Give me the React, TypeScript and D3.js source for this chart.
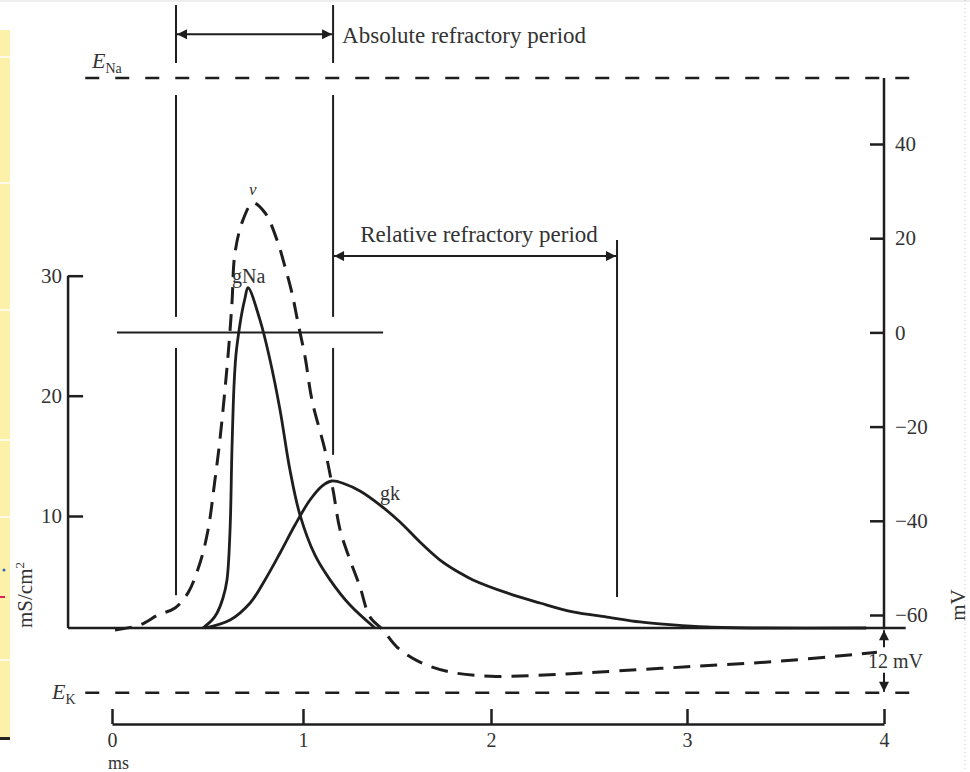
import React, { useEffect, useRef } from "react";
import * as d3 from "d3";

// time axis (ms) and the two y scales
const timeTicks = [0, 1, 2, 3, 4];
const condTicks = [10, 20, 30];
const mvTicks = [40, 20, 0, -20, -40, -60];

// reversal potentials and rest (mV)
const E_NA = 54;
const E_K = -76.5;
const V_REST = -63;

// membrane potential v (mV), dashed
const vTime = [0.016, 0.147, 0.241, 0.33, 0.398, 0.461, 0.503, 0.539, 0.565, 0.607, 0.628, 0.644, 0.686, 0.738, 0.801, 0.864, 0.906, 0.942, 0.974, 1.011, 1.048, 1.117, 1.16, 1.197, 1.25, 1.303, 1.356, 1.426, 1.5, 1.622, 1.782, 2.0, 2.301, 2.556, 3.0, 3.472, 3.964];
const vValues = [-63.2, -62.1, -60.0, -58.5, -55.3, -48.9, -41.9, -31.3, -22.8, -5.2, 6.2, 16.9, 23.9, 27.5, 25.4, 19.6, 13.9, 8.4, 2.0, -5.2, -14.4, -25.0, -33.5, -41.9, -48.3, -54.0, -60.4, -63.2, -66.8, -70.0, -72.1, -73.0, -72.7, -72.1, -71.0, -69.8, -67.9];

// sodium conductance (mS/cm2)
const gNaTime = [0.476, 0.524, 0.55, 0.581, 0.602, 0.618, 0.628, 0.639, 0.649, 0.662, 0.681, 0.696, 0.712, 0.775, 0.827, 0.88, 0.932, 0.984, 1.064, 1.144, 1.25, 1.383];
const gNaValues = [0, 0.71, 1.34, 2.68, 4.29, 8.75, 15.5, 20.9, 23.4, 25.1, 27.0, 28.1, 29.0, 26.3, 23.0, 18.8, 13.8, 10.1, 6.5, 4.3, 2.05, 0];

// potassium conductance (mS/cm2)
const gKTime = [0.487, 0.618, 0.723, 0.801, 0.88, 0.958, 1.037, 1.101, 1.154, 1.223, 1.303, 1.41, 1.516, 1.622, 1.729, 1.835, 1.904, 2.082, 2.25, 2.418, 2.592, 2.76, 2.929, 3.1, 3.37, 3.91];
const gKValues = [0, 0.71, 2.23, 4.29, 6.7, 9.2, 11.33, 12.49, 12.91, 12.66, 12.08, 10.91, 9.46, 7.68, 6.07, 4.91, 4.29, 3.13, 2.23, 1.43, 0.98, 0.54, 0.27, 0.09, 0, 0];

// 0 mV reference line
const zeroLineTime = [0.026, 1.426];

// refractory markers: time (ms) and mV segments of each vertical line
const absStartTime = 0.335;
const absEndTime = 1.16;
const relEndTime = 2.643;
const absStartSegs = [[69.5, 57.2], [50.4, 3.3], [-3.3, -55.8]];
const absEndSegs = [[69.5, 57.2], [50.4, 3.3], [-3.3, -26]];
const relEndSegs = [[19.6, -56.2]];
const absArrowMv = 63.3;
const relArrowMv = 16.2;

const eLineSpan = [-0.14, 4.16];
const baselineSpan = [-0.23, 4.11];

const W = 970;
const H = 772;
const FONT = "'Liberation Serif', 'DejaVu Serif', serif";
const INK = "#1e1e1e";
const TEXT = "#333";

const App = () => {
    const svgRef = useRef(null);

    useEffect(() => {
        const svg = d3.select(svgRef.current);
        svg.selectAll("*").remove();

        // scanned figure is slightly uneven, so polylinear scales
        const x = d3.scaleLinear().domain(timeTicks).range([112, 303, 491, 687, 884]);
        const yG = d3.scaleLinear().domain([0, 10, 20, 30]).range([628, 516, 395.7, 275.7]);
        const yV = d3.scaleLinear().domain([-60, 40]).range([615, 144]);
        const axisY = 724;

        svg.append("rect").attr("width", W).attr("height", H).attr("fill", "#fff");

        // page chrome at the left edge of the screenshot
        svg.append("rect").attr("x", 0).attr("y", 30).attr("width", 10).attr("height", 708).attr("fill", "#fdf0a8");
        [57, 183, 310, 440, 517, 660].forEach(yy => {
            svg.append("line").attr("x1", 0).attr("x2", 10).attr("y1", yy).attr("y2", yy).attr("stroke", "#fff").attr("stroke-width", 1.5);
        });
        svg.append("rect").attr("x", 0).attr("y", 737).attr("width", 10).attr("height", 3).attr("fill", "#222");
        svg.append("circle").attr("cx", 4).attr("cy", 570).attr("r", 1.5).attr("fill", "#3060c0");
        svg.append("rect").attr("x", 0).attr("y", 596).attr("width", 5).attr("height", 2).attr("fill", "#e0205a");
        svg.append("line").attr("x1", 0).attr("x2", W).attr("y1", 1).attr("y2", 1).attr("stroke", "#ddd");
        svg.append("line").attr("x1", 965).attr("x2", 965).attr("y1", 0).attr("y2", H)
            .attr("stroke", "#ccc").attr("stroke-dasharray", "1,3");

        const defs = svg.append("defs");
        defs.append("marker")
            .attr("id", "arrow")
            .attr("viewBox", "0 0 10 10")
            .attr("refX", 10).attr("refY", 5)
            .attr("markerUnits", "userSpaceOnUse")
            .attr("markerWidth", 14).attr("markerHeight", 10)
            .attr("orient", "auto-start-reverse")
            .append("path").attr("d", "M0,0 L10,5 L0,10 z").attr("fill", INK);

        // E_Na and E_K dashed lines
        [E_NA, E_K].forEach(e => {
            svg.append("line")
                .attr("x1", x(eLineSpan[0])).attr("x2", x(eLineSpan[1]))
                .attr("y1", yV(e)).attr("y2", yV(e))
                .attr("stroke", INK).attr("stroke-width", 2.5)
                .attr("stroke-dasharray", "14,16");
        });

        const sub = (tx, ty, main, subText) => {
            const t = svg.append("text").attr("x", tx).attr("y", ty)
                .attr("font-family", FONT).attr("fill", TEXT);
            t.append("tspan").attr("font-style", "italic").attr("font-size", 22).text(main);
            t.append("tspan").attr("font-size", 14).attr("dy", 5).text(subText);
        };
        sub(92, yV(E_NA) - 10, "E", "Na");
        sub(52, yV(E_K) + 6, "E", "K");

        // baseline (0 mS/cm2, resting potential)
        svg.append("line")
            .attr("x1", x(baselineSpan[0])).attr("x2", x(baselineSpan[1]))
            .attr("y1", yG(0)).attr("y2", yG(0))
            .attr("stroke", INK).attr("stroke-width", 2.5);

        // left axis
        const leftAxis = svg.append("g")
            .attr("transform", `translate(${x(-0.23)},0)`)
            .call(d3.axisLeft(yG).tickValues(condTicks).tickSize(-15).tickSizeOuter(0).tickPadding(6));
        leftAxis.select(".domain").attr("d", `M0,${yG(30)}V${yG(0)}`);

        // right axis
        const rightAxis = svg.append("g")
            .attr("transform", `translate(${x(4)},0)`)
            .call(d3.axisRight(yV).tickValues(mvTicks).tickSize(-14).tickSizeOuter(0).tickPadding(11));
        rightAxis.select(".domain").attr("d", `M0,${yV(E_NA)}V${yV(V_REST)}`);

        // time axis
        const bottomAxis = svg.append("g")
            .attr("transform", `translate(0,${axisY})`)
            .call(d3.axisBottom(x).tickValues(timeTicks).tickFormat(d3.format("d"))
                .tickSize(-15).tickSizeOuter(0).tickPadding(9));

        [leftAxis, rightAxis, bottomAxis].forEach(g => {
            g.selectAll(".domain, line").attr("stroke", INK).attr("stroke-width", 2.5);
            g.selectAll("text").attr("font-family", FONT).attr("font-size", 21).attr("fill", TEXT);
        });
        bottomAxis.selectAll("text").attr("font-size", 20);

        svg.append("text").attr("x", 108).attr("y", 769)
            .attr("font-family", FONT).attr("font-size", 18).attr("fill", TEXT).text("ms");

        svg.append("text")
            .attr("transform", `translate(32,595) rotate(-90)`)
            .attr("text-anchor", "middle")
            .attr("font-family", FONT).attr("font-size", 21).attr("fill", TEXT)
            .html("mS/cm<tspan font-size='13' dy='-8'>2</tspan>");

        svg.append("text")
            .attr("transform", `translate(965,605) rotate(-90)`)
            .attr("text-anchor", "middle")
            .attr("font-family", FONT).attr("font-size", 21).attr("fill", TEXT)
            .text("mV");

        // 0 mV line
        svg.append("line")
            .attr("x1", x(zeroLineTime[0])).attr("x2", x(zeroLineTime[1]))
            .attr("y1", yV(0)).attr("y2", yV(0))
            .attr("stroke", INK).attr("stroke-width", 2);

        // refractory period markers
        const vlines = [[absStartTime, absStartSegs], [absEndTime, absEndSegs], [relEndTime, relEndSegs]];
        vlines.forEach(([t, segs]) => {
            segs.forEach(([a, b]) => {
                svg.append("line")
                    .attr("x1", x(t)).attr("x2", x(t))
                    .attr("y1", yV(a)).attr("y2", yV(b))
                    .attr("stroke", INK).attr("stroke-width", 2);
            });
        });

        const arrow = (t0, t1, mv) => {
            svg.append("line")
                .attr("x1", x(t0) + 1).attr("x2", x(t1) - 1)
                .attr("y1", yV(mv)).attr("y2", yV(mv))
                .attr("stroke", INK).attr("stroke-width", 2)
                .attr("marker-start", "url(#arrow)")
                .attr("marker-end", "url(#arrow)");
        };
        arrow(absStartTime, absEndTime, absArrowMv);
        arrow(absEndTime, relEndTime, relArrowMv);

        svg.append("text").attr("x", x(absEndTime) + 9).attr("y", 43)
            .attr("font-family", FONT).attr("font-size", 23).attr("fill", TEXT)
            .text("Absolute refractory period");
        svg.append("text").attr("x", (x(absEndTime) + x(relEndTime)) / 2 + 4).attr("y", 242)
            .attr("text-anchor", "middle")
            .attr("font-family", FONT).attr("font-size", 23).attr("fill", TEXT)
            .text("Relative refractory period");

        // 12 mV marker between rest and E_K
        const xm = x(4);
        svg.append("line").attr("x1", xm).attr("x2", xm)
            .attr("y1", yV(V_REST) + 18).attr("y2", yV(V_REST) + 1)
            .attr("stroke", INK).attr("stroke-width", 2).attr("marker-end", "url(#arrow)");
        svg.append("line").attr("x1", xm).attr("x2", xm)
            .attr("y1", yV(E_K) - 20).attr("y2", yV(E_K) - 1)
            .attr("stroke", INK).attr("stroke-width", 2).attr("marker-end", "url(#arrow)");
        svg.append("text").attr("x", xm - 16).attr("y", 668)
            .attr("font-family", FONT).attr("font-size", 20).attr("fill", TEXT)
            .text("12 mV");

        // curves
        const curve = d3.curveCatmullRom.alpha(0.5);
        const lineV = d3.line().x(d => x(d[0])).y(d => yV(d[1])).curve(curve);
        const lineG = d3.line().x(d => x(d[0])).y(d => yG(d[1])).curve(curve);

        svg.append("path")
            .datum(vTime.map((t, i) => [t, vValues[i]]))
            .attr("d", lineV)
            .attr("fill", "none").attr("stroke", INK).attr("stroke-width", 3)
            .attr("stroke-dasharray", "17,10");

        svg.append("path")
            .datum(gNaTime.map((t, i) => [t, gNaValues[i]]))
            .attr("d", lineG)
            .attr("fill", "none").attr("stroke", INK).attr("stroke-width", 2.8);

        svg.append("path")
            .datum(gKTime.map((t, i) => [t, gKValues[i]]))
            .attr("d", lineG)
            .attr("fill", "none").attr("stroke", INK).attr("stroke-width", 2.8);

        // curve labels
        svg.append("text").attr("x", 249).attr("y", 195)
            .attr("font-family", FONT).attr("font-style", "italic").attr("font-size", 17).attr("fill", TEXT)
            .text("v");
        svg.append("text").attr("x", 232).attr("y", 283)
            .attr("font-family", FONT).attr("font-size", 20).attr("fill", TEXT)
            .text("gNa");
        svg.append("text").attr("x", 380).attr("y", 500)
            .attr("font-family", FONT).attr("font-size", 20).attr("fill", TEXT)
            .text("gk");
    }, []);

    return (
        <svg
            ref={svgRef}
            width={W}
            height={H}
            style={{ position: "absolute", left: 0, top: 0, display: "block" }}
        />
    );
};

export default App;
